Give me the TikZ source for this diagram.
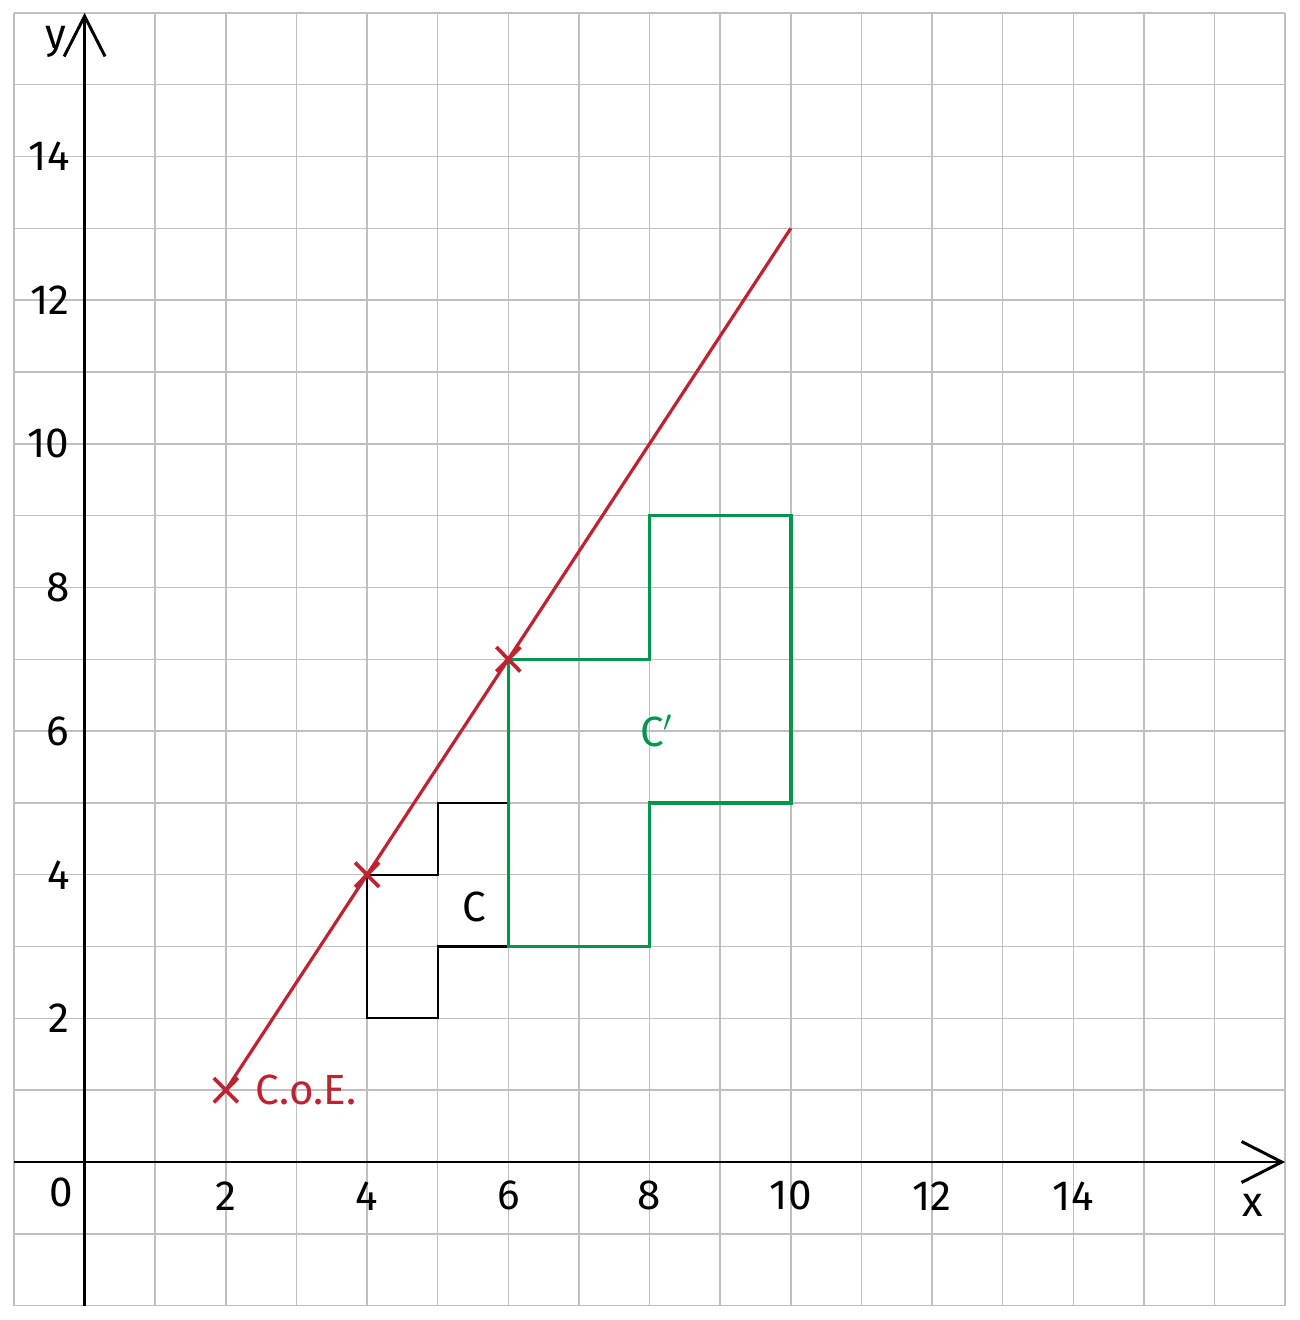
\documentclass[tikz,border=0pt]{standalone}
\usepackage{fontspec}
\setmainfont{Fira Sans}
\usetikzlibrary{arrows.meta}
\definecolor{coered}{RGB}{190,35,50}
\definecolor{imggreen}{RGB}{0,150,75}
\begin{document}
\begin{tikzpicture}[x=1cm, y=1.017cm, >={Straight Barb[length=5.7mm,width=5.8mm]},
		lbl/.style = {font=\fontsize{17}{20}\selectfont},
		axis/.style = {line width=1.2pt},
		gridline/.style = {gray!50, line width=0.6pt},
		cross/.style = {coered, line width=1.5pt}]
		\useasboundingbox (-1.198,-2.20) rectangle (17.21,16.18);
		% grid
		\foreach \i in {-1,...,17}
			\draw[gridline] (\i,-2) -- (\i,16);
		\foreach \j in {-2,...,16}
			\draw[gridline] (-1,\j) -- (17,\j);
		% axes
		\coordinate (xl) at (-1,0);
		\coordinate (xr) at (17,0);
		\coordinate (yb) at (0,-2);
		\coordinate (yt) at (0,16);
		\draw[->, axis] (xl) -- (xr);
		\draw[->, axis] (yb) -- (yt);
		\node[lbl] (xlab) at (16.54,-0.6) {x};
		\node[lbl] (ylab) at (-0.4,15.6) {y};
		\node[lbl] (o) at (-0.33,-0.42) {0};
		\foreach \k in {2,4,...,14} {
			\node[lbl] (tx\k) at (\k,-0.47) {\k};
			\node[lbl, anchor=east] (ty\k) at (-0.09,\k) {\k};
		}
		% shape C
		\draw[line width=0.9pt] (4,4) -- (5,4) -- (5,5) -- (6,5) -- (6,3) -- (5,3) -- (5,2) -- (4,2) -- cycle;
		\node[lbl] (c) at (5.52,3.55) {C};
		% image C'
		\draw[imggreen, line width=1.4pt] (6,7) -- (8,7) -- (8,9) -- (10,9) -- (10,5) -- (8,5) -- (8,3) -- (6,3) -- cycle;
		\node[lbl, text=imggreen] (cp) at (8.1,6.0) {C$'$};
		% centre of enlargement
		\coordinate (coe) at (2,1);
		\coordinate (p1) at (4,4);
		\coordinate (p2) at (6,7);
		\coordinate (end) at (10,13);
		\draw[coered, line width=1.3pt] (coe) -- (end);
		\foreach \p in {coe,p1,p2} {
			\draw[cross] ([shift={(-0.17,-0.17)}]\p) -- ([shift={(0.17,0.17)}]\p);
			\draw[cross] ([shift={(-0.17,0.17)}]\p) -- ([shift={(0.17,-0.17)}]\p);
		}
		\node[lbl, text=coered, anchor=west] (coelab) at (2.3,1) {C.o.E.};
	\end{tikzpicture}
\end{document}
